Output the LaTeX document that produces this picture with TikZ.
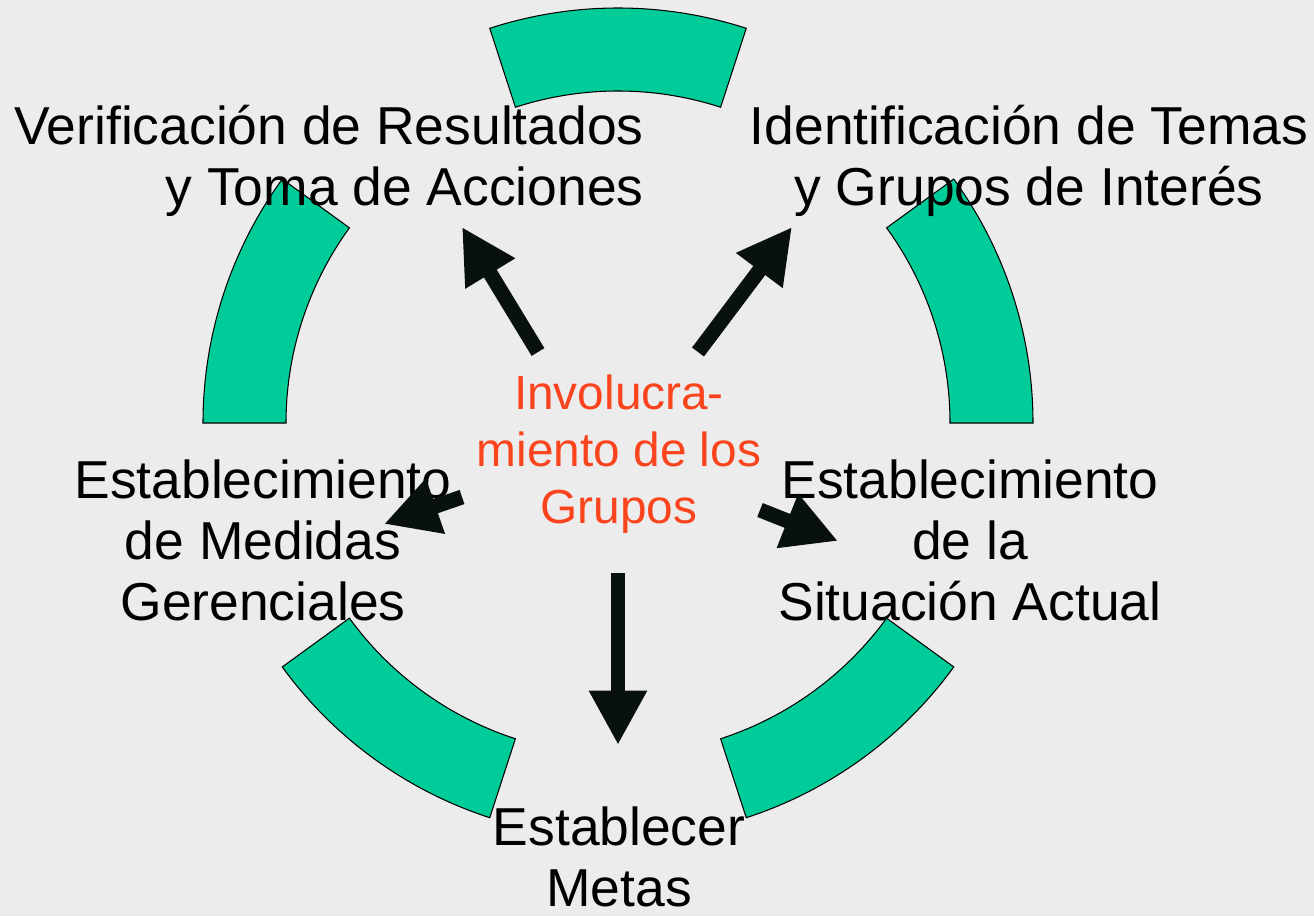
\documentclass[tikz,border=0pt]{standalone}
\usepackage{fontspec}
\setmainfont{Liberation Sans}
\usetikzlibrary{arrows.meta}
\definecolor{fondo}{RGB}{236,236,236}
\definecolor{verde}{RGB}{0,204,153}
\definecolor{naranja}{RGB}{250,68,30}
\definecolor{flecha}{RGB}{8,16,16}

\begin{document}
\begin{tikzpicture}[x=0.02cm,y=0.02cm,
                    main node/.style={inner sep=0pt,anchor=base,font={\fontsize{30.4}{34.6}\selectfont}},
                    band/.style={fill=verde,draw=black,line width=0.6pt},
                    big arrow/.style={draw=flecha,line width=8.5pt,-{Triangle[width=31pt,length=31pt]}}]

  \fill[fondo] (0,0) rectangle (1314,-916);
  \useasboundingbox (0,0) rectangle (1314,-916);

  \coordinate (o) at (618,-423);
  \foreach \a in {0,72,144,216,288}
    \draw[band,shift={(o)}] (\a:415) arc[start angle=\a,delta angle=36,radius=415]
      -- (\a+36:332) arc[start angle=\a+36,delta angle=-36,radius=332] -- cycle;

  \node[main node,align=right,anchor=base east] (verif) at (644,-205) {Verificación de Resultados\\y Toma de Acciones};
  \node[main node,align=center] (ident) at (1029,-205) {Identificación de Temas\\y Grupos de Interés};
  \node[main node,align=center] (medidas) at (263,-620) {Establecimiento\\de Medidas\\Gerenciales};
  \node[main node,align=center] (situacion) at (970,-620) {Establecimiento\\de la\\Situación Actual};
  \node[main node,align=center,text depth=0pt] (metas) at (619,-906) {Establecer\\Metas};
  \node[main node,align=center,text=naranja,font={\fontsize{27.2}{32.3}\selectfont}] (grupos) at (619,-523) {Involucra-\\miento de los\\Grupos};

  \coordinate (t1) at (538,-352); \coordinate (h1) at (462,-227);
  \coordinate (t2) at (698,-352); \coordinate (h2) at (792,-227);
  \coordinate (t3) at (462,-497); \coordinate (h3) at (384,-524);
  \coordinate (t4) at (760,-510); \coordinate (h4) at (838,-541);
  \coordinate (t5) at (618,-573); \coordinate (h5) at (618,-745);

  \foreach \i in {1,...,5}
    \draw[big arrow] (t\i) -- (h\i);
\end{tikzpicture}
\end{document}
